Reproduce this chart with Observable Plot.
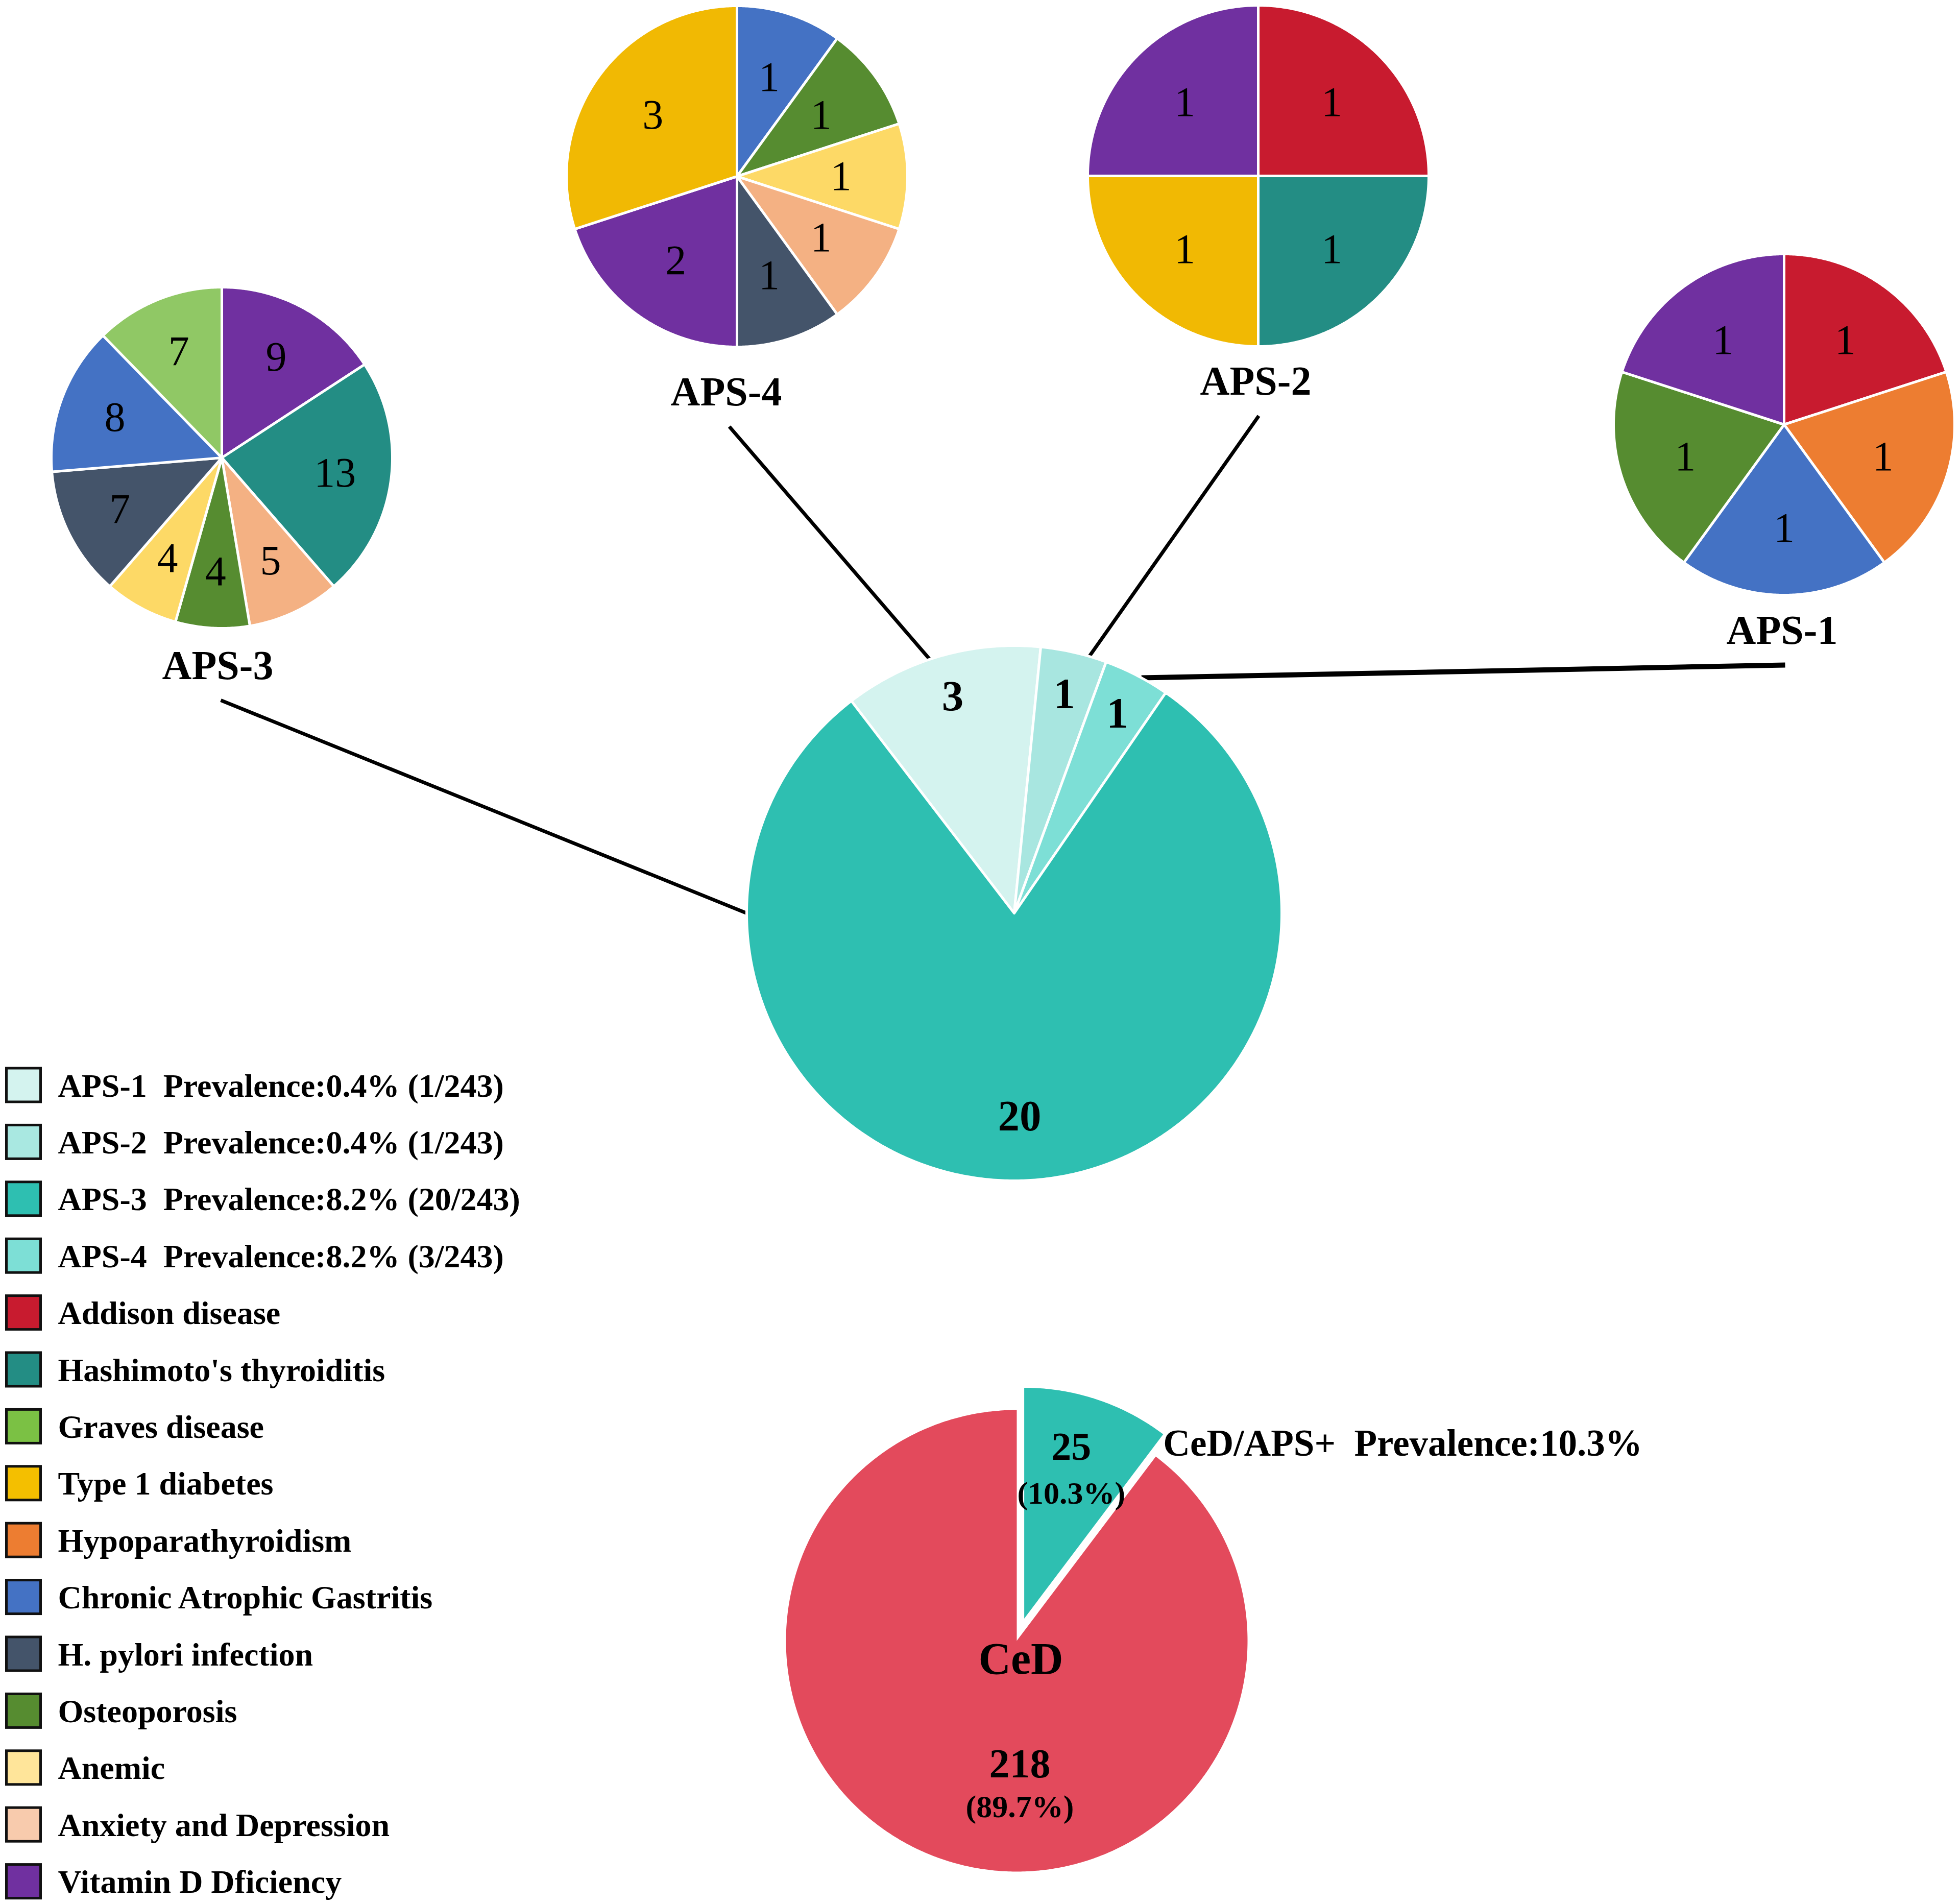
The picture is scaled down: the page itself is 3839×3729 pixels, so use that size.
<!DOCTYPE html>
<html>
<head>
<meta charset="utf-8">
<script src="https://cdn.jsdelivr.net/npm/d3@7"></script>
<script src="https://cdn.jsdelivr.net/npm/@observablehq/plot@0.6"></script>
<style>
  html, body { margin: 0; padding: 0; background: #fff; }
  #chart svg { display: block; }
</style>
</head>
<body>
<div id="chart"></div>
<script>
// ---------------- DATA ----------------
const apsTypes = ["APS-1", "APS-2", "APS-3", "APS-4"];
const apsPrevalence = ["Prevalence:0.4% (1/243)", "Prevalence:0.4% (1/243)", "Prevalence:8.2% (20/243)", "Prevalence:8.2% (3/243)"];
const apsLegendColors = ["#d4f3ef", "#a9e8e1", "#2ebfb1", "#7ddfd6"];

const diseases = ["Addison disease", "Hashimoto's thyroiditis", "Graves disease", "Type 1 diabetes", "Hypoparathyroidism", "Chronic Atrophic Gastritis", "H. pylori infection", "Osteoporosis", "Anemic", "Anxiety and Depression", "Vitamin D Dficiency"];
const diseasePieColors = ["#c81b2f", "#238d84", "#90c865", "#f1b903", "#ed7d31", "#4472c4", "#44546a", "#568c30", "#fdd966", "#f4b183", "#7030a0"];
const diseaseLegendColors = ["#c81b2f", "#238d84", "#7bc144", "#f4bf00", "#ed7d31", "#4472c4", "#44546a", "#568c30", "#ffe59a", "#f8cbad", "#7030a0"];

// Sub-pies: disease counts per APS type (clockwise from 12 o'clock)
const aps1Diseases = ["Addison disease", "Hypoparathyroidism", "Chronic Atrophic Gastritis", "Osteoporosis", "Vitamin D Dficiency"];
const aps1Counts = [1, 1, 1, 1, 1];
const aps2Diseases = ["Addison disease", "Hashimoto's thyroiditis", "Type 1 diabetes", "Vitamin D Dficiency"];
const aps2Counts = [1, 1, 1, 1];
const aps3Diseases = ["Vitamin D Dficiency", "Hashimoto's thyroiditis", "Anxiety and Depression", "Osteoporosis", "Anemic", "H. pylori infection", "Chronic Atrophic Gastritis", "Graves disease"];
const aps3Counts = [9, 13, 5, 4, 4, 7, 8, 7];
const aps4Diseases = ["Chronic Atrophic Gastritis", "Osteoporosis", "Anemic", "Anxiety and Depression", "H. pylori infection", "Vitamin D Dficiency", "Type 1 diabetes"];
const aps4Counts = [1, 1, 1, 1, 1, 2, 3];

// Main APS pie (clockwise)
const apsPieOrder = ["APS-4", "APS-2", "APS-1", "APS-3"];
const apsPieCounts = [3, 1, 1, 20];
const apsPieColors = ["#d4f3ef", "#a8e6e0", "#7ddfd6", "#2ebfb1"];

// CeD pie
const cedGroups = ["CeD/APS+", "CeD"];
const cedCounts = [25, 218];
const cedPercents = ["(10.3%)", "(89.7%)"];
const cedColors = ["#2ebfb1", "#e34a5c"];
const cedCallout = "CeD/APS+\u00a0\u00a0Prevalence:10.3%";

// ---------------- LAYOUT ----------------
const W = 3839, H = 3729;
const FONT = "'Liberation Serif', 'Times New Roman', Times, serif";
const subLayout = {
  "APS-1": {cx: 3494, cy: 831, r: 334, labelR: 0.61, titleX: 3490, titleY: 1260, diseases: aps1Diseases, counts: aps1Counts},
  "APS-2": {cx: 2464, cy: 344, r: 334, labelR: 0.61, titleX: 2459, titleY: 772, diseases: aps2Diseases, counts: aps2Counts},
  "APS-3": {cx: 434, cy: 896, r: 334, labelR: 0.67, titleX: 426, titleY: 1329, diseases: aps3Diseases, counts: aps3Counts},
  "APS-4": {cx: 1443, cy: 345, r: 334, labelR: 0.61, titleX: 1422, titleY: 793, diseases: aps4Diseases, counts: aps4Counts}
};
const mainLayout = {cx: 1986, cy: 1788, r: 524, start: -37.5};
const cedLayout = {cx: 1991, cy: 3213, r: 452, explode: 46};
const connectorAngle = {"APS-4": -18.4, "APS-2": 16.3, "APS-1": 28.4, "APS-3": 270};
const connectorWidth = {"APS-4": 7, "APS-2": 7, "APS-1": 10, "APS-3": 7};
const legendTop = 2125, legendStep = 111.4;

// ---------------- HELPERS ----------------
const rad = (d) => d * Math.PI / 180;
const polar = (cx, cy, r, a) => ({x: cx + r * Math.sin(rad(a)), y: cy - r * Math.cos(rad(a))});

function slices(pieId, names, counts, colors, start = 0) {
  const total = d3.sum(counts);
  let a = start;
  return counts.map((v, i) => {
    const a0 = a; a += v / total * 360;
    return {pie: pieId, id: pieId + "-" + i, name: names[i], value: v, color: colors[i], a0, a1: a, share: v / total};
  });
}
function polygon(s, cx, cy, r) {
  const pts = [{x: cx, y: cy, id: s.id, color: s.color}];
  const n = Math.max(2, Math.ceil((s.a1 - s.a0) / 0.5));
  for (let k = 0; k <= n; k++) {
    const p = polar(cx, cy, r, s.a0 + (s.a1 - s.a0) * k / n);
    pts.push({x: p.x, y: p.y, id: s.id, color: s.color});
  }
  return pts;
}
const diseaseColor = (name) => diseasePieColors[diseases.indexOf(name)];

// ---------------- BUILD GEOMETRY ----------------
const subPoly = [];
const subLabels = [];
const titles = [];
for (const key of Object.keys(subLayout)) {
  const L = subLayout[key];
  const ss = slices(key, L.diseases, L.counts, L.diseases.map(diseaseColor));
  for (const s of ss) {
    subPoly.push(...polygon(s, L.cx, L.cy, L.r));
    const p = polar(L.cx, L.cy, L.r * L.labelR, (s.a0 + s.a1) / 2);
    subLabels.push({x: p.x, y: p.y, text: String(s.value)});
  }
  titles.push({x: L.titleX, y: L.titleY, text: key});
}

const mainSlices = slices("main", apsPieOrder, apsPieCounts, apsPieColors, mainLayout.start);
const mainPoly = mainSlices.flatMap(s => polygon(s, mainLayout.cx, mainLayout.cy, mainLayout.r));
const mainLabels = mainSlices.map(s => {
  const p = polar(mainLayout.cx, mainLayout.cy, mainLayout.r * (s.share > 0.5 ? 0.76 : 0.84), (s.a0 + s.a1) / 2);
  return {x: p.x, y: p.y, text: String(s.value)};
});

const connectors = apsPieOrder.map(key => {
  const L = subLayout[key];
  const e = polar(mainLayout.cx, mainLayout.cy, mainLayout.r, connectorAngle[key]);
  return {x1: L.titleX + 6, y1: L.titleY + 42, x2: e.x, y2: e.y, w: connectorWidth[key]};
});

const cedSlices = slices("ced", cedGroups, cedCounts, cedColors, 0);
const cedPoly = [];
const cedValueLabels = [];
const cedNameLabels = [];
let cedCalloutPos = null;
cedSlices.forEach((s, i) => {
  const mid = (s.a0 + s.a1) / 2;
  const off = s.share < 0.5 ? cedLayout.explode : 0;
  const c = polar(cedLayout.cx, cedLayout.cy, off, mid);
  cedPoly.push(...polygon(s, c.x, c.y, cedLayout.r));
  if (s.share < 0.5) {
    const p = polar(c.x, c.y, cedLayout.r * 0.67, mid);
    cedValueLabels.push({x: p.x - 4, y: p.y - 49, text: String(s.value), size: 78});
    cedValueLabels.push({x: p.x - 4, y: p.y + 42, text: cedPercents[i], size: 62});
    const tip = polar(c.x, c.y, cedLayout.r, s.a1);
    cedCalloutPos = {x: tip.x, y: tip.y + 42, text: cedCallout};
  } else {
    cedNameLabels.push({x: c.x + 8, y: c.y + cedLayout.r * 0.08, text: "CeD"});
    cedValueLabels.push({x: c.x + 6, y: c.y + cedLayout.r * 0.535, text: String(s.value), size: 80});
    cedValueLabels.push({x: c.x + 6, y: c.y + cedLayout.r * 0.72, text: cedPercents[i], size: 62});
  }
});

const legendItems = [
  ...apsTypes.map((t, i) => ({label: t + "\u00a0\u00a0" + apsPrevalence[i], color: apsLegendColors[i]})),
  ...diseases.map((d, i) => ({label: d, color: diseaseLegendColors[i]}))
].map((d, i) => ({...d, cy: legendTop + i * legendStep}));

// ---------------- PLOT ----------------
const chart = Plot.plot({
  width: W,
  height: H,
  margin: 0,
  x: {domain: [0, W], range: [0, W], axis: null},
  y: {domain: [0, H], range: [0, H], axis: null},
  color: {type: "identity"},
  style: {background: "#ffffff", fontFamily: FONT, color: "#000"},
  marks: [
    // connectors
    Plot.link(connectors, {x1: "x1", y1: "y1", x2: "x2", y2: "y2", stroke: "#000", strokeWidth: "w"}),
    // sub pies
    Plot.line(subPoly, {x: "x", y: "y", z: "id", fill: d => d.color, stroke: "#fff", strokeWidth: 5, strokeLinejoin: "round", curve: "linear-closed"}),
    Plot.text(subLabels, {x: "x", y: "y", text: "text", fontSize: 82, fontFamily: FONT, fill: "#000", lineAnchor: "middle"}),
    Plot.text(titles, {x: "x", y: "y", text: "text", fontSize: 80, fontWeight: "bold", fontFamily: FONT, fill: "#000", lineAnchor: "bottom"}),
    // main APS pie
    Plot.line(mainPoly, {x: "x", y: "y", z: "id", fill: d => d.color, stroke: "#fff", strokeWidth: 5, strokeLinejoin: "round", curve: "linear-closed"}),
    Plot.text(mainLabels, {x: "x", y: "y", text: "text", fontSize: 85, fontWeight: "bold", fontFamily: FONT, fill: "#000", lineAnchor: "middle"}),
    // CeD pie
    Plot.line(cedPoly, {x: "x", y: "y", z: "id", fill: d => d.color, stroke: "none", curve: "linear-closed"}),
    Plot.text(cedNameLabels, {x: "x", y: "y", text: "text", fontSize: 88, fontWeight: "bold", fontFamily: FONT, fill: "#000", lineAnchor: "middle"}),
    Plot.text(cedValueLabels, {x: "x", y: "y", text: "text", fontSize: "size", fontWeight: "bold", fontFamily: FONT, fill: "#000", lineAnchor: "middle"}),
    Plot.text([cedCalloutPos], {x: "x", y: "y", text: "text", fontSize: 73, fontWeight: "bold", fontFamily: FONT, fill: "#000", textAnchor: "start", lineAnchor: "bottom"}),
    // legend
    Plot.rect(legendItems, {x1: () => 12.5, x2: () => 79.5, y1: d => d.cy - 33, y2: d => d.cy + 33, fill: d => d.color, stroke: "#111", strokeWidth: 5}),
    Plot.text(legendItems, {x: () => 113, y: d => d.cy + 22, text: "label", fontSize: 64, fontWeight: "bold", fontFamily: FONT, fill: "#000", textAnchor: "start", lineAnchor: "bottom"})
  ]
});
document.getElementById("chart").appendChild(chart);
</script>
</body>
</html>
